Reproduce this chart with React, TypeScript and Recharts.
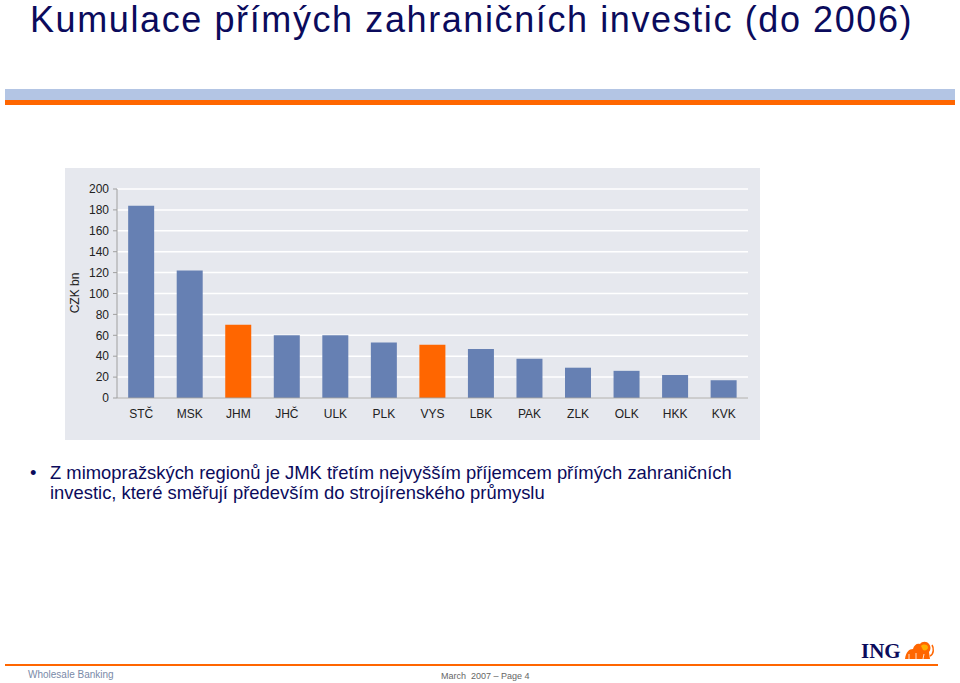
import { BarChart, Bar, XAxis, YAxis, CartesianGrid, Cell } from 'recharts';

const regions = ['STČ', 'MSK', 'JHM', 'JHČ', 'ULK', 'PLK', 'VYS', 'LBK', 'PAK', 'ZLK', 'OLK', 'HKK', 'KVK'];
const fdiStock = [184, 122, 70, 60, 60, 53, 51, 47, 37.5, 29, 26, 22, 17];
const highlighted = ['JHM', 'VYS'];
const yTicks = [0, 20, 40, 60, 80, 100, 120, 140, 160, 180, 200];

const chartData = regions.map((r, i) => ({ region: r, value: fdiStock[i] }));

const NAVY = '#0b0b5c';
const BLUE = '#6680b3';
const ORANGE = '#ff6600';

function Lion() {
  return (
    <svg width={32} height={20} viewBox="0 0 32 20">
      <path d="M2 19 C3 12 6 9 10 9 C11 5 14 3 17 4 C19 1 24 1 26 4 C28 6 28 10 26 12 L27 19 Z" fill={ORANGE} />
      <path d="M18 6 C20 4 24 4 25 7 C25 10 22 11 20 10 Z" fill="#ffae00" />
      <path d="M27 16 C31 14 31 8 29 5" stroke={ORANGE} strokeWidth={1.5} fill="none" />
      <path d="M6 19 L6 14 M13 19 L13 13 M20 19 L21 14" stroke="#ffffff" strokeWidth={0.8} />
    </svg>
  );
}

export default function App() {
  return (
    <div
      style={{
        position: 'fixed',
        left: 0,
        top: 0,
        width: 960,
        height: 683,
        background: '#fff',
        fontFamily: '"Liberation Sans", Arial, sans-serif',
        overflow: 'hidden',
      }}
    >
      <div
        style={{
          position: 'absolute',
          left: 30,
          top: 0,
          fontSize: 36,
          lineHeight: '40px',
          letterSpacing: 1.6,
          color: NAVY,
          whiteSpace: 'nowrap',
        }}
      >
        Kumulace přímých zahraničních investic (do 2006)
      </div>
      <div style={{ position: 'absolute', left: 5, top: 89, width: 950, height: 11, background: '#b3c5e4' }} />
      <div style={{ position: 'absolute', left: 5, top: 100, width: 950, height: 5, background: ORANGE }} />

      <div style={{ position: 'absolute', left: 65, top: 168, width: 695, height: 272, background: '#e6e8ee' }}>
        <BarChart
          width={695}
          height={272}
          data={chartData}
          margin={{ top: 21, right: 12, bottom: 12, left: 0 }}
          barCategoryGap="23%"
        >
          <CartesianGrid horizontal vertical={false} stroke="#ffffff" strokeWidth={1.5} />
          <XAxis
            dataKey="region"
            height={30}
            tickLine={false}
            axisLine={{ stroke: '#a0a0a0' }}
            tick={{ fontSize: 12, fill: '#222' }}
            tickMargin={5}
            interval={0}
          />
          <YAxis
            width={52}
            domain={[0, 200]}
            ticks={yTicks}
            interval={0}
            tickSize={4}
            tickMargin={4}
            axisLine={{ stroke: '#a0a0a0' }}
            tickLine={{ stroke: '#a0a0a0' }}
            tick={{ fontSize: 12, fill: '#222' }}
          />
          <Bar dataKey="value" isAnimationActive={false}>
            {chartData.map((d) => (
              <Cell key={d.region} fill={highlighted.includes(d.region) ? ORANGE : BLUE} />
            ))}
          </Bar>
        </BarChart>
        <div
          style={{
            position: 'absolute',
            left: 10 - 30,
            top: 125 - 8,
            width: 60,
            height: 16,
            lineHeight: '16px',
            textAlign: 'center',
            fontSize: 12,
            color: '#222',
            transform: 'rotate(-90deg)',
          }}
        >
          CZK bn
        </div>
      </div>

      <div style={{ position: 'absolute', left: 30, top: 463, fontSize: 18.4, lineHeight: '20px', color: NAVY }}>
        <span style={{ position: 'absolute', left: 0, top: 0 }}>•</span>
        <div style={{ marginLeft: 20, width: 730 }}>
          Z mimopražských regionů je JMK třetím nejvyšším příjemcem přímých zahraničních investic, které směřují
          především do strojírenského průmyslu
        </div>
      </div>

      <div
        style={{
          position: 'absolute',
          left: 861,
          top: 639,
          fontSize: 21,
          fontWeight: 'bold',
          fontFamily: '"Liberation Serif", serif',
          color: NAVY,
        }}
      >
        ING
      </div>
      <div style={{ position: 'absolute', left: 903, top: 640 }}>
        <Lion />
      </div>
      <div style={{ position: 'absolute', left: 5, top: 664, width: 933, height: 2, background: ORANGE }} />
      <div style={{ position: 'absolute', left: 28, top: 669, fontSize: 10, color: '#7a8aa8' }}>Wholesale Banking</div>
      <div style={{ position: 'absolute', left: 441, top: 671, fontSize: 9, color: '#666' }}>
        March&nbsp; 2007 – Page 4
      </div>
    </div>
  );
}
